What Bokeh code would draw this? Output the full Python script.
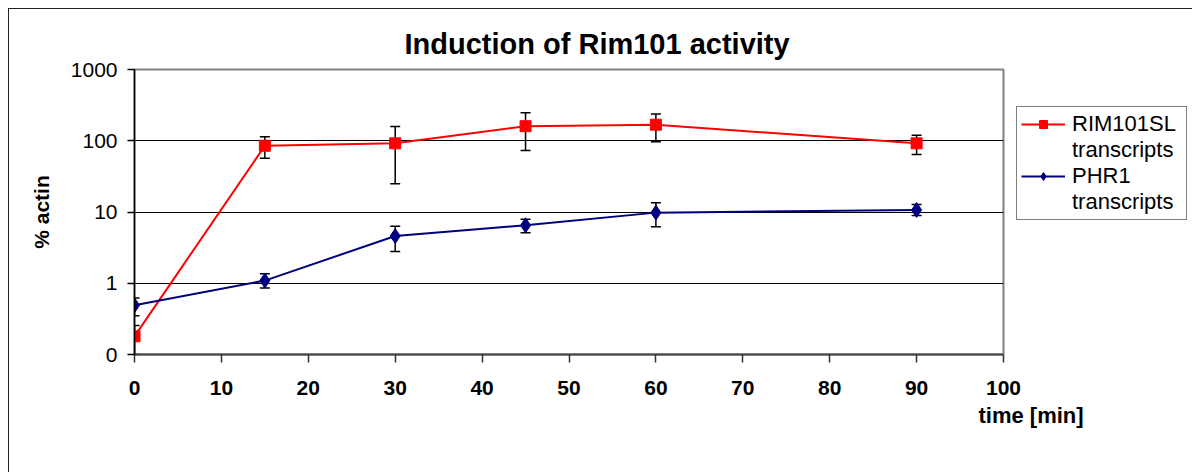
from bokeh.plotting import figure
from bokeh.models import (FixedTicker, Whisker, TeeHead, ColumnDataSource, Legend,
                          LegendItem, Title)
from bokeh.embed import file_html
from bokeh.resources import INLINE

# ---- data ----
time_min = [0, 15, 30, 45, 60, 90]
rim101_vals = [0.18, 85, 92, 160, 168, 92]
rim101_upper = [0.255, 114, 158, 248, 238, 119]
rim101_lower = [0.1, 57, 25, 73, 97, 64]
phr1_vals = [0.49, 1.09, 4.6, 6.5, 9.8, 10.7]
phr1_upper = [0.62, 1.36, 6.3, 7.9, 13.5, 12.7]
phr1_lower = [0.35, 0.86, 2.8, 5.1, 6.2, 8.9]
y_ticks = [0.1, 1, 10, 100, 1000]
y_tick_labels = ["0", "1", "10", "100", "1000"]
x_ticks = [0, 10, 20, 30, 40, 50, 60, 70, 80, 90, 100]
series_names = ["RIM101SL", "PHR1"]

FONT = "Liberation Sans"
OFF = 9  # page offset of the chart's outer border (margin + border)
W, H = 1192 - OFF, 472 - OFF

p = figure(width=W, height=H, y_axis_type="log", x_range=(0, 100), y_range=(0.1, 1000),
           output_backend="svg", toolbar_location=None,
           frame_width=869, frame_height=285,
           min_border_left=134 - OFF, min_border_right=189, min_border_top=69 - OFF,
           min_border_bottom=118)
p.styles = {"margin-left": "8px", "margin-top": "8px",
            "border-left": "1px solid #222", "border-top": "1px solid #222"}

# title
p.title.text = "Induction of Rim101 activity"
p.title.align = "left"
p.title.offset = 270
p.title.standoff = 19
p.title.text_font = FONT
p.title.text_font_size = "29px"
p.title.text_font_style = "bold"
p.title.text_color = "black"

# frame
p.outline_line_color = "#808080"
p.outline_line_width = 2
p.background_fill_color = "white"
p.border_fill_color = "white"

# grid
p.xgrid.grid_line_color = None
p.ygrid.grid_line_color = "black"
p.ygrid.grid_line_width = 1
p.ygrid.ticker = FixedTicker(ticks=y_ticks)

# y axis
p.yaxis.ticker = FixedTicker(ticks=y_ticks)
p.yaxis.major_label_overrides = {t: l for t, l in zip(y_ticks, y_tick_labels)}
p.yaxis.minor_tick_line_color = None
p.yaxis.major_tick_in = 0
p.yaxis.major_tick_out = 7
p.yaxis.major_tick_line_color = "black"
p.yaxis.major_tick_line_width = 1.5
p.yaxis.axis_line_color = "black"
p.yaxis.axis_line_width = 1.5
p.yaxis.major_label_text_font = FONT
p.yaxis.major_label_text_font_size = "21px"
p.yaxis.major_label_text_color = "black"
p.yaxis.major_label_standoff = 10
p.yaxis.axis_label = "% actin"
p.yaxis.axis_label_text_font = FONT
p.yaxis.axis_label_text_font_size = "21px"
p.yaxis.axis_label_text_font_style = "bold"
p.yaxis.axis_label_text_color = "black"
p.yaxis.axis_label_standoff = 15

# x axis
p.xaxis.ticker = FixedTicker(ticks=x_ticks)
p.xaxis.minor_tick_line_color = None
p.xaxis.major_tick_in = 0
p.xaxis.major_tick_out = 8
p.xaxis.major_tick_line_color = "#333333"
p.xaxis.major_tick_line_width = 1.5
p.xaxis.axis_line_color = "#444444"
p.xaxis.axis_line_width = 2
p.xaxis.major_label_text_font = FONT
p.xaxis.major_label_text_font_size = "21px"
p.xaxis.major_label_text_font_style = "bold"
p.xaxis.major_label_text_color = "black"
p.xaxis.major_label_standoff = 18

# x axis label, right of centre under the last tick label
p.add_layout(Title(text="time [min]", align="left", offset=844, standoff=6,
                   text_font=FONT, text_font_size="22px", text_font_style="bold",
                   text_color="black"), "below")

# data sources
src_r = ColumnDataSource(dict(x=time_min, y=rim101_vals, upper=rim101_upper, lower=rim101_lower))
src_b = ColumnDataSource(dict(x=time_min, y=phr1_vals, upper=phr1_upper, lower=phr1_lower))

for src in (src_r, src_b):
    w = Whisker(source=src, base="x", upper="upper", lower="lower",
                line_color="black", line_width=1.5,
                upper_head=TeeHead(size=10, line_color="black", line_width=1.5),
                lower_head=TeeHead(size=10, line_color="black", line_width=1.5))
    p.add_layout(w)

lr = p.line("x", "y", source=src_r, line_color="#FF0000", line_width=2)
sr = p.scatter("x", "y", source=src_r, marker="square", size=11,
               fill_color="#FF0000", line_color="#FF0000")
lb = p.line("x", "y", source=src_b, line_color="#000080", line_width=2)
sb = p.scatter("x", "y", source=src_b, marker="diamond", size=15,
               fill_color="#000080", line_color="#000080")

d1 = p.line([], [], line_alpha=0)
d2 = p.line([], [], line_alpha=0)

legend = Legend(items=[
    LegendItem(label=series_names[0], renderers=[lr, sr]),
    LegendItem(label="transcripts", renderers=[d1]),
    LegendItem(label=series_names[1], renderers=[lb, sb]),
    LegendItem(label="transcripts", renderers=[d2]),
], location=(13, 134))
legend.border_line_color = "black"
legend.border_line_width = 1
legend.background_fill_color = "white"
legend.label_text_font = FONT
legend.label_text_font_size = "22px"
legend.label_text_color = "black"
legend.glyph_width = 44
legend.glyph_height = 20
legend.label_height = 25
legend.label_width = 110
legend.spacing = 0
legend.padding = 4
legend.margin = 0
legend.label_standoff = 7
p.add_layout(legend, "right")

open("out.html", "w").write(file_html(p, INLINE))
